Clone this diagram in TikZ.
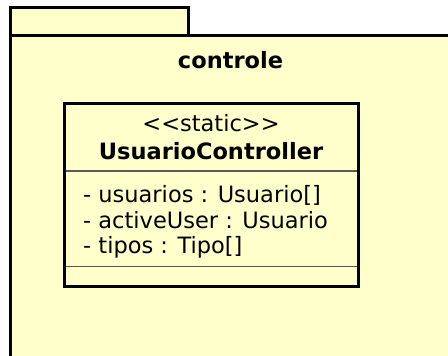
\documentclass[tikz,border=0pt]{standalone}
\usepackage{fontspec}
\setmainfont{DejaVu Sans}
\usetikzlibrary{calc}
\definecolor{pkgfill}{HTML}{FFFFCC}
\begin{document}
\begin{tikzpicture}[x=1pt,y=-1pt,
  pkgline/.style={draw=black,line width=3pt,fill=pkgfill,inner sep=0pt,outer sep=0pt,anchor=north west},
  sepline/.style={draw=black!65,line width=1.1pt},
  txt/.style={inner sep=0pt,font=\fontsize{22.5}{26}\selectfont},
  btxt/.style={inner sep=0pt,font=\fontsize{22.5}{26}\selectfont\bfseries}]
\useasboundingbox (0,0) rectangle (448,356);
\clip (0,0) rectangle (448,356);
\node (tab) [pkgline, minimum width=177.5pt, minimum height=28pt] at (10.5,7.5) {};
\node (body) [pkgline, minimum width=460pt, minimum height=340pt] at (10.5,35.5) {};
\node (pkgname) [btxt, anchor=base] at (230.5,68.3) {controle};
\node (cls) [pkgline, minimum width=294.5pt, minimum height=183pt] at (64,103) {};
\draw[sepline] ($(cls.north west)+(1.5,68)$) -- ($(cls.north east)+(-1.5,68)$);
\draw[sepline] ($(cls.north west)+(1.5,163.7)$) -- ($(cls.north east)+(-1.5,163.7)$);
\node (stereo) [txt, anchor=base] at (211,131) {<{}<static>{}>};
\node (clsname) [btxt, anchor=base] at (211,159) {UsuarioController};
\node (a1) [txt, anchor=base west] at (83,202.3) {- usuarios : Usuario[]};
\node (a2) [txt, anchor=base west] at (83,228.1) {- activeUser : Usuario};
\node (a3) [txt, anchor=base west] at (83,253.9) {- tipos : Tipo[]};
\end{tikzpicture}
\end{document}
